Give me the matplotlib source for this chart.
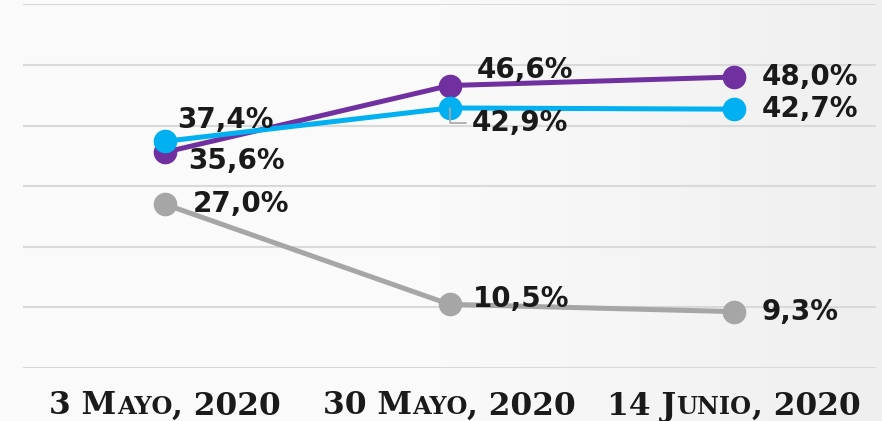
import numpy as np
import matplotlib
matplotlib.use("Agg")
import matplotlib.pyplot as plt
from matplotlib.offsetbox import TextArea, HPacker, AnnotationBbox
from matplotlib.colors import LinearSegmentedColormap

# ---- data ----
categories = ["3 Mayo, 2020", "30 Mayo, 2020", "14 Junio, 2020"]
series_purple = [35.6, 46.6, 48.0]
series_cyan = [37.4, 42.9, 42.7]
series_gray = [27.0, 10.5, 9.3]
colors = {"purple": "#7030A0", "cyan": "#00B0F0", "gray": "#A6A6A6"}

# label offsets (pixels) for each point: (dx, dy)
offs_purple = [(23, -9), (27, 16), (28, 0)]
offs_cyan = [(12, 21), (22, -15), (28, 0)]
offs_gray = [(28, 0), (23, 5), (28, 0)]

fig = plt.figure(figsize=(8.82, 4.21), dpi=100)

# background gradient
bg = fig.add_axes([0, 0, 1, 1], zorder=-10)
grad = np.linspace(0, 1, 256)[None, :]
cm = LinearSegmentedColormap.from_list("bg", ["#FBFBFB", "#FAFAFA", "#EFEFEF"])
bg.imshow(grad, aspect="auto", cmap=cm, extent=[0, 1, 0, 1])
bg.axis("off")

ax = fig.add_axes([23/882, 53/421, 853/882, 363.7/421])
ax.set_facecolor("none")
x = np.arange(len(categories))

ax.set_xlim(-0.5, 2.5)
ax.set_ylim(0, 60)
ax.set_yticks(np.arange(0, 61, 10))
ax.yaxis.grid(True, color="#D9D9D9", linewidth=1.5)
ax.set_axisbelow(True)
for s in ax.spines.values():
    s.set_visible(False)
ax.tick_params(left=False, bottom=False, labelleft=False, labelbottom=False)

lw = 3.6
ms = 16
ax.plot(x, series_gray, color=colors["gray"], lw=lw, marker="o", ms=ms, zorder=3)
ax.plot(x, series_purple, color=colors["purple"], lw=lw, marker="o", ms=ms, zorder=4)
ax.plot(x, series_cyan, color=colors["cyan"], lw=lw, marker="o", ms=ms, zorder=5)

lab_kw = dict(fontsize=20, fontweight="bold", color="#1A1A1A", family="DejaVu Sans",
              ha="left", va="center", textcoords="offset pixels", zorder=6)

def fmt(v):
    return f"{v:.1f}%".replace(".", ",")

for vals, offs in [(series_purple, offs_purple), (series_cyan, offs_cyan), (series_gray, offs_gray)]:
    for i, (v, (dx, dy)) in enumerate(zip(vals, offs)):
        kw = dict(lab_kw)
        if vals is series_cyan and i == 1:
            ax.annotate(fmt(v), xy=(x[i], v), xytext=(dx, dy),
                        arrowprops=dict(arrowstyle="-", color="#A6A6A6", lw=1.2,
                                        connectionstyle="angle,angleA=0,angleB=90,rad=0",
                                        shrinkA=2, shrinkB=0), **kw)
        else:
            ax.annotate(fmt(v), xy=(x[i], v), xytext=(dx, dy), **kw)

# small-caps x labels
big = 22.5
small = big * 0.77
tick_font = dict(family="DejaVu Serif", weight="bold", color="#1A1A1A")

def smallcaps_box(label):
    parts = []
    cur = ""
    cur_small = None
    for ch in label:
        is_small = ch.islower()
        if cur_small is None:
            cur, cur_small = ch, is_small
        elif is_small == cur_small:
            cur += ch
        else:
            parts.append((cur, cur_small))
            cur, cur_small = ch, is_small
    parts.append((cur, cur_small))
    areas = [TextArea(t.upper(), textprops=dict(size=small if sm else big, **tick_font))
             for t, sm in parts]
    return HPacker(children=areas, align="baseline", pad=0, sep=0)

for i, cat in enumerate(categories):
    box = smallcaps_box(cat)
    ab = AnnotationBbox(box, (x[i], 0), xycoords=("data", "axes fraction"),
                        xybox=(0, -38), boxcoords="offset pixels", frameon=False,
                        box_alignment=(0.5, 0.5), annotation_clip=False)
    ax.add_artist(ab)

fig.savefig("out.png", dpi=100)
